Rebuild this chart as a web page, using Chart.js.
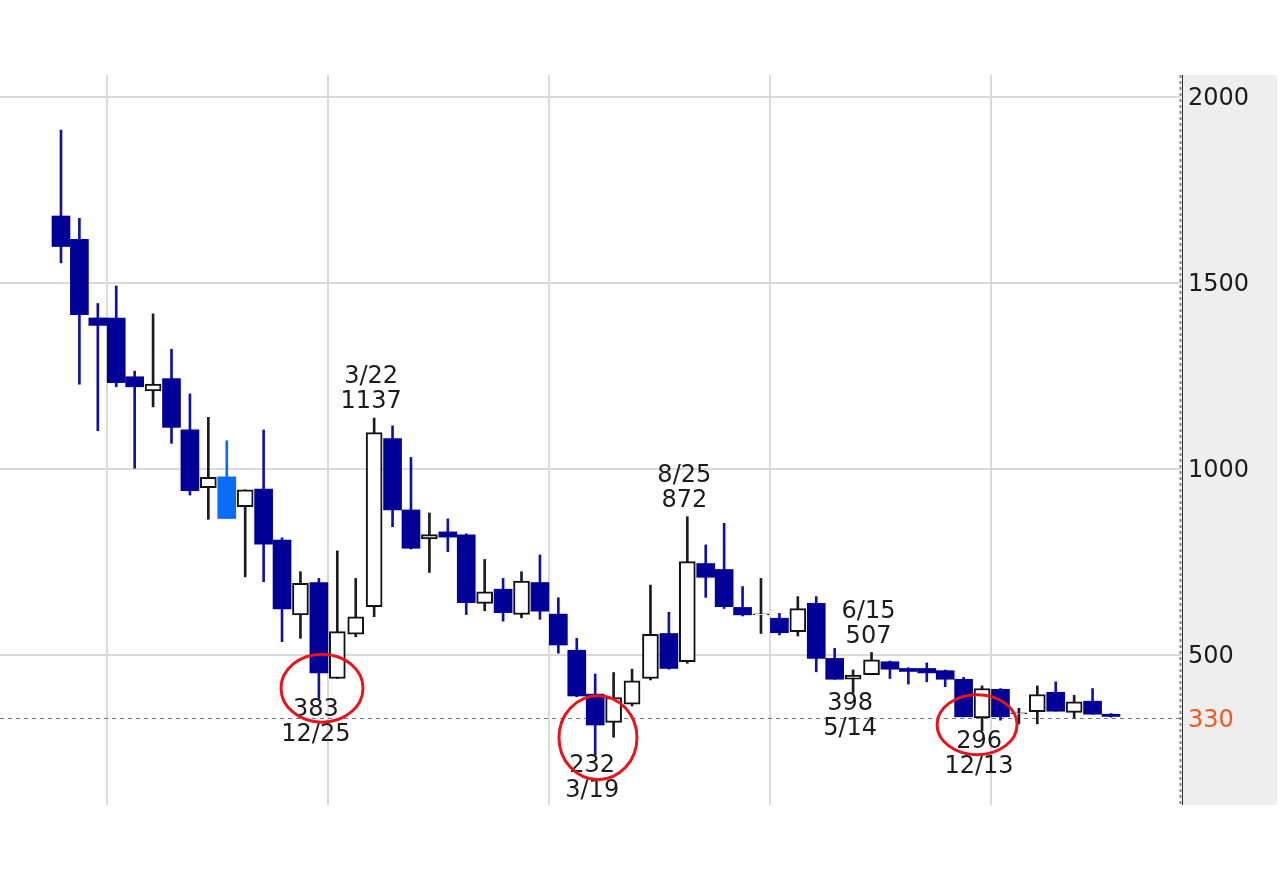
<!DOCTYPE html>
<html>
<head>
<meta charset="utf-8">
<script src="https://cdn.jsdelivr.net/npm/chart.js@4/dist/chart.umd.min.js"></script>
<style>
  html, body { margin: 0; padding: 0; background: #fff; }
  #wrap { width: 1280px; height: 884px; }
</style>
</head>
<body>
<div id="wrap"><canvas id="chart" width="1280" height="884"></canvas></div>
<script>
// monthly candles, oldest first
const OPEN  = [1680, 1617, 1406, 1406, 1248, 1210, 1243, 1105,  950,  979,  899,  946,  809,  608,  695,  437,
                556,  630, 1082,  890,  812,  831,  823,  639,  677,  609,  695,  610,  513,  395,  319,  368,
                437,  558,  482,  746,  730,  628,  608,  599,  563,  639,  491,  435,  447,  482,  464,  464,
                458,  435,  331,  408,  342,  348,  400,  346,  376,  341];
const HIGH  = [1911, 1674, 1445, 1492, 1263, 1417, 1322, 1202, 1139, 1076,  944, 1105,  815,  724,  706,  780,
                706, 1137, 1116, 1031,  882,  866,  826,  757,  706,  724,  769,  654,  545,  449,  453,  462,
                688,  615,  872,  796,  854,  684,  706,  612,  657,  657,  518,  460,  507,  484,  466,  479,
                460,  440,  417,  410,  357,  417,  428,  392,  410,  343];
const LOW   = [1554, 1228, 1103, 1221, 1002, 1167, 1069,  930,  865,  867,  710,  697,  536,  545,  383,  437,
                549,  603,  845,  785,  722,  778,  609,  619,  591,  600,  596,  505,  388,  232,  279,  363,
                433,  462,  478,  655,  625,  605,  558,  554,  551,  455,  435,  398,  447,  437,  422,  428,
                415,  334,  296,  325,  315,  315,  349,  330,  341,  333];
const CLOSE = [1598, 1415, 1386, 1232, 1221, 1228, 1112,  942,  978,  867,  944,  798,  624,  693,  452,  563,
                603, 1098,  890,  787,  824,  817,  641,  670,  614,  699,  618,  527,  390,  312,  386,  431,
                556,  464,  751,  709,  630,  608,  611,  560,  625,  491,  435,  446,  487,  462,  456,  452,
                435,  334,  410,  334,  345,  394,  349,  374,  341,  335];
const HIGHLIGHT = [9];

const Y_TICKS = [500, 1000, 1500, 2000];
const LAST_PRICE = 330;
const YEAR_SPLITS = [2.5, 14.5, 26.5, 38.5, 50.5];

// high / low callouts
const MARK_IDX  = [17, 14, 34, 43, 44, 29, 50];
const MARK_DATE = ['3/22', '12/25', '8/25', '5/14', '6/15', '3/19', '12/13'];
const MARK_VAL  = [1137, 383, 872, 398, 507, 232, 296];
const MARK_SIDE = ['high', 'low', 'high', 'low', 'high', 'low', 'low'];

// red rings (centre in data units)
const RING_X = [14.17, 29.15, 49.73];
const RING_Y = [411, 278, 313];
const RING_R = [[41, 34], [39, 42], [40, 30]];

// ── Colours ────────────────────────────────────────────────────────────────
const NAVY = '#000096';
const NAVY_WICK = '#1212a0';
const SKY = '#0a6cf5';
const INK = '#1c1c1c';
const GRID = '#dadada';
const ORANGE = '#f15a22';
const FONT = '"DejaVu Sans", Verdana, sans-serif';

const IDX = OPEN.map((_, i) => i);
const isUp = i => CLOSE[i] >= OPEN[i];
const fillOf = i => HIGHLIGHT.includes(i) ? SKY : NAVY;

const upIdx = IDX.filter(isUp);
const downIdx = IDX.filter(i => !isUp(i));

// ── Overlay plugin ─────────────────────────────────────────────────────────
const overlay = {
  id: 'overlay',
  beforeDraw(chart) {
    const { ctx, chartArea: a } = chart;
    ctx.save();
    ctx.fillStyle = '#eeeeee';
    ctx.fillRect(a.right + 2, a.top, chart.width - a.right - 5, a.bottom - a.top);
    ctx.restore();
  },
  beforeDatasetsDraw(chart) {
    const { ctx, chartArea: a, scales: { y } } = chart;
    const py = Math.round(y.getPixelForValue(LAST_PRICE)) + 0.5;
    ctx.save();
    ctx.strokeStyle = '#777';
    ctx.lineWidth = 1;
    ctx.setLineDash([4, 4]);
    ctx.beginPath();
    ctx.moveTo(a.left, py);
    ctx.lineTo(a.right, py);
    ctx.stroke();
    ctx.restore();
  },
  afterDatasetsDraw(chart) {
    const { ctx, chartArea: a, scales: { x, y } } = chart;
    ctx.save();

    // axis line
    ctx.strokeStyle = '#888';
    ctx.lineWidth = 2;
    ctx.setLineDash([3, 3]);
    ctx.beginPath();
    ctx.moveTo(a.right - 0.5, a.top);
    ctx.lineTo(a.right - 0.5, a.bottom);
    ctx.stroke();
    ctx.setLineDash([]);
    ctx.strokeStyle = '#333';
    ctx.lineWidth = 1;
    ctx.beginPath();
    ctx.moveTo(a.right + 1.5, a.top);
    ctx.lineTo(a.right + 1.5, a.bottom);
    ctx.stroke();

    // callouts
    ctx.font = `24px ${FONT}`;
    ctx.fillStyle = INK;
    ctx.textAlign = 'center';
    ctx.textBaseline = 'middle';
    MARK_IDX.forEach((idx, k) => {
      const px = x.getPixelForValue(idx) - 3;
      const py = y.getPixelForValue(MARK_VAL[k]);
      if (MARK_SIDE[k] === 'high') {
        ctx.fillText(MARK_DATE[k], px, py - 41);
        ctx.fillText(String(MARK_VAL[k]), px, py - 16);
      } else {
        ctx.fillText(String(MARK_VAL[k]), px, py + 11);
        ctx.fillText(MARK_DATE[k], px, py + 36);
      }
    });

    // rings
    ctx.strokeStyle = '#e8141c';
    ctx.lineWidth = 3;
    RING_X.forEach((rx, k) => {
      ctx.beginPath();
      ctx.ellipse(x.getPixelForValue(rx), y.getPixelForValue(RING_Y[k]),
        RING_R[k][0], RING_R[k][1], 0, 0, Math.PI * 2);
      ctx.stroke();
    });
    ctx.restore();
  },
};

// ── Chart ──────────────────────────────────────────────────────────────────
new Chart(document.getElementById('chart'), {
  type: 'bar',
  data: {
    datasets: [
      {
        label: 'up bodies',
        order: 0,
        grouped: false,
        data: upIdx.map(i => ({ x: i, y: [OPEN[i], CLOSE[i]] })),
        backgroundColor: '#ffffff',
        borderColor: '#111',
        borderWidth: 2,
        borderSkipped: false,
        barThickness: 16,
      },
      {
        label: 'down bodies',
        order: 1,
        grouped: false,
        data: downIdx.map(i => ({ x: i, y: [OPEN[i], CLOSE[i]] })),
        backgroundColor: downIdx.map(fillOf),
        borderWidth: 0,
        borderSkipped: false,
        barThickness: 18,
      },
      {
        label: 'wicks',
        order: 2,
        grouped: false,
        data: IDX.map(i => ({ x: i, y: [LOW[i], HIGH[i]] })),
        backgroundColor: IDX.map(i => isUp(i) ? INK : (HIGHLIGHT.includes(i) ? SKY : NAVY_WICK)),
        borderWidth: 0,
        barThickness: 2,
      },
    ],
  },
  options: {
    responsive: false,
    animation: false,
    events: [],
    layout: { padding: { top: 75, bottom: 79, left: 0, right: 0 } },
    plugins: { legend: { display: false }, tooltip: { enabled: false } },
    scales: {
      x: {
        type: 'linear',
        min: -3.31,
        max: 60.8,
        offset: false,
        afterBuildTicks: s => { s.ticks = YEAR_SPLITS.map(v => ({ value: v })); },
        afterFit: s => { s.height = 0; },
        ticks: { display: false },
        grid: { color: GRID, lineWidth: 2, drawTicks: false, offset: false },
        border: { display: false },
      },
      y: {
        position: 'right',
        min: 97,
        max: 2059,
        afterBuildTicks: s => { s.ticks = [LAST_PRICE, ...Y_TICKS].map(v => ({ value: v })); },
        afterFit: s => { s.width = 99; },
        ticks: {
          padding: 7,
          labelOffset: 2,
          font: { family: FONT, size: 24 },
          color: c => c.tick && c.tick.value === LAST_PRICE ? ORANGE : INK,
          callback: v => String(v),
        },
        grid: {
          color: c => c.tick && c.tick.value === LAST_PRICE ? 'rgba(0,0,0,0)' : GRID,
          lineWidth: 2,
          drawTicks: false,
        },
        border: { display: false },
      },
    },
  },
  plugins: [overlay],
});
</script>
</body>
</html>
